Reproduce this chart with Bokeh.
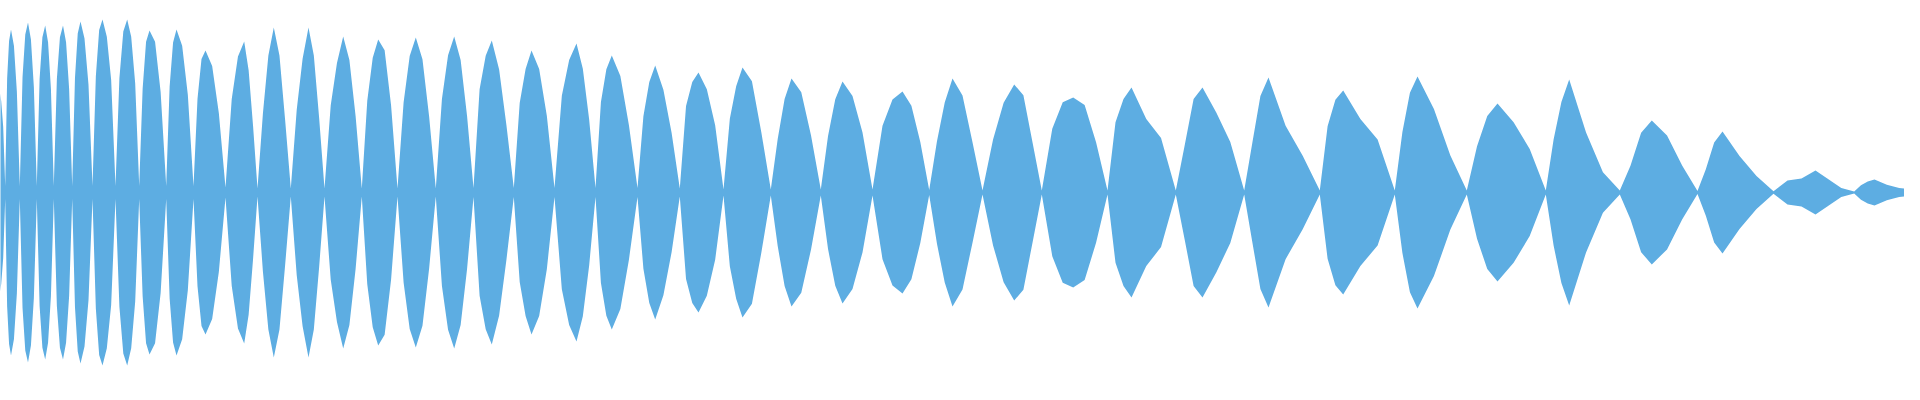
from bokeh.plotting import figure
from bokeh.models import Range1d, ColumnDataSource
from bokeh.embed import file_html
from bokeh.resources import INLINE

# time axis in sample units (0..1919); amplitude normalised to full scale (1.0)
head_t = [0, 1, 2.5]
head_amp = [0.31, 0.30, 0.21]

node_t = [3.3, 12.7, 27.3, 44.3, 61.3, 79.7, 100, 123, 146.7, 173.7, 201, 233,
          265, 298.3, 332, 369.3, 405, 443.3, 481, 521.3, 562, 603, 645, 687.3,
          731, 778.3, 828.3, 880, 936.7, 990, 1049.3, 1115, 1183.3, 1251.7,
          1327.3, 1402.3, 1474.3, 1553.3, 1627.3, 1705, 1781, 1861.7, 1919]
node_amp = [0.033, 0.033, 0.033, 0.033, 0.033, 0.033, 0.033, 0.033, 0.033, 0.033,
            0.033, 0.025, 0.02, 0.02, 0.02, 0.02, 0.02, 0.02, 0.022, 0.022, 0.022,
            0.022, 0.022, 0.02, 0.015, 0.015, 0.015, 0.015, 0.012, 0.01, 0.01, 0.01,
            0.01, 0.01, 0.01, 0.01, 0.01, 0.01, 0.01, 0.008, 0.006, 0.005, 0.015]

peak_t = [6.7, 18.5, 35.5, 52.7, 70.5, 88, 110, 134.7, 157, 184, 213, 251.7,
          281.3, 316, 350.7, 385.7, 423.3, 461.7, 499.3, 539, 584, 619.3, 662.7,
          706, 750, 799, 850, 910, 960, 1021.7, 1080.7, 1139, 1210, 1276, 1350.7,
          1425, 1505, 1576.7, 1659.3, 1730, 1823, 1882]
peak_amp = [0.52, 0.815, 0.85, 0.835, 0.835, 0.855, 0.865, 0.865, 0.81, 0.815,
            0.71, 0.755, 0.825, 0.825, 0.78, 0.765, 0.775, 0.78, 0.76, 0.71, 0.745,
            0.685, 0.635, 0.60, 0.625, 0.57, 0.555, 0.505, 0.57, 0.54, 0.475, 0.525,
            0.525, 0.575, 0.51, 0.58, 0.445, 0.565, 0.36, 0.305, 0.11, 0.065]

# envelope relative to each lobe's peak, read at 1/3 and 2/3 of each flank
rise_lo = [0.67, 0.70, 0.68, 0.68, 0.68, 0.67, 0.67, 0.66, 0.64, 0.65, 0.66, 0.62,
           0.48, 0.50, 0.56, 0.60, 0.58, 0.60, 0.68, 0.63, 0.65, 0.66, 0.60, 0.72,
           0.59, 0.47, 0.51, 0.66, 0.45, 0.49, 0.67, 0.67, 0.45, 0.43, 0.65, 0.52,
           0.52, 0.47, 0.37, 0.38, 0.55, 0.55]
rise_hi = [0.91, 0.93, 0.93, 0.93, 0.93, 0.93, 0.94, 0.93, 0.93, 0.92, 0.94, 0.90,
           0.83, 0.81, 0.83, 0.88, 0.88, 0.88, 0.90, 0.87, 0.89, 0.90, 0.87, 0.92,
           0.85, 0.82, 0.84, 0.92, 0.79, 0.83, 0.95, 0.89, 0.89, 0.84, 0.91, 0.86,
           0.86, 0.80, 0.83, 0.82, 0.64, 0.85]
fall_hi = [0.88, 0.90, 0.90, 0.90, 0.90, 0.90, 0.90, 0.90, 0.93, 0.90, 0.89, 0.81,
           0.83, 0.83, 0.85, 0.93, 0.86, 0.85, 0.81, 0.87, 0.83, 0.85, 0.81, 0.86,
           0.89, 0.88, 0.87, 0.86, 0.85, 0.90, 0.92, 0.70, 0.76, 0.58, 0.72, 0.72,
           0.79, 0.53, 0.79, 0.60, 0.60, 0.60]
fall_lo = [0.63, 0.62, 0.62, 0.62, 0.62, 0.63, 0.65, 0.63, 0.62, 0.60, 0.56, 0.44,
           0.44, 0.45, 0.49, 0.57, 0.49, 0.49, 0.44, 0.54, 0.49, 0.49, 0.47, 0.56,
           0.48, 0.50, 0.54, 0.50, 0.44, 0.46, 0.53, 0.52, 0.48, 0.32, 0.52, 0.32,
           0.49, 0.18, 0.37, 0.27, 0.20, 0.35]

t = list(head_t)
amp = list(head_amp)
for i in range(len(peak_t)):
    ln, rn, pk, A = node_t[i], node_t[i + 1], peak_t[i], peak_amp[i]
    t += [ln, ln + (pk - ln) / 3, ln + 2 * (pk - ln) / 3, pk,
          pk + (rn - pk) / 3, pk + 2 * (rn - pk) / 3]
    amp += [node_amp[i], rise_lo[i] * A, rise_hi[i] * A, A,
            fall_hi[i] * A, fall_lo[i] * A]
t.append(node_t[-1])
amp.append(node_amp[-1])

src = ColumnDataSource(dict(t=t, top=amp, bottom=[-v for v in amp]))

p = figure(width=1904, height=384, x_range=Range1d(8, 1912),
           y_range=Range1d(-0.96, 0.96), output_backend="svg",
           toolbar_location=None, min_border=0, title=None,
           x_axis_location=None, y_axis_location=None)
p.varea(x="t", y1="bottom", y2="top", source=src, fill_color="#5DADE2")
p.grid.visible = False
p.outline_line_color = None
p.background_fill_color = "white"
p.border_fill_color = "white"

open("out.html", "w").write(file_html(p, INLINE))
